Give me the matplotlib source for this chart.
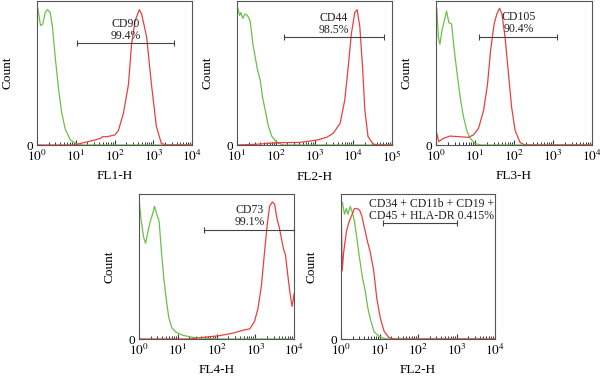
import numpy as np
import matplotlib
matplotlib.use("Agg")
import matplotlib.pyplot as plt
from matplotlib.ticker import LogLocator, NullFormatter

plt.rcParams["font.family"] = ["Liberation Serif", "DejaVu Serif"]
plt.rcParams["mathtext.fontset"] = "stix"
plt.rcParams["font.size"] = 9

GREEN = "#6cc04a"
RED = "#e8403f"

# ── Data (x in log10 decades, y in % of axis height) ──────────────────────────
# Panel 1: CD90, FL1-H
p1_green_x = [0.0, 0.02, 0.09, 0.15, 0.21, 0.27, 0.34, 0.40, 0.47, 0.56, 0.64, 0.73, 0.86, 1.03, 1.2, 4.0]
p1_green_y = [93, 95, 83, 84, 92, 94, 92, 82, 61, 38, 22, 11, 3.5, 0.5, 0, 0]
p1_red_x = [0.0, 0.94, 1.2, 1.5, 1.63, 1.7, 1.8, 2.01, 2.1, 2.23, 2.36, 2.44, 2.53, 2.64, 2.7, 2.83, 2.95, 3.08, 3.21, 3.35, 4.0]
p1_red_y = [0, 0, 1.6, 3.5, 4.6, 5.8, 5.7, 7, 10, 22, 42, 70, 86, 94, 91, 75, 43, 13, 1, 0, 0]

# Panel 2: CD44, FL2-H
p2_green_x = [1.0, 1.02, 1.07, 1.1, 1.15, 1.21, 1.27, 1.34, 1.41, 1.47, 1.53, 1.6, 1.66, 1.73, 1.81, 1.9, 2.03, 2.2, 5.0]
p2_green_y = [93, 95, 90, 92, 88, 91, 90, 86, 70, 61, 52, 45, 33, 24, 13, 6, 1.6, 0, 0]
p2_red_x = [1.0, 1.5, 2.03, 2.63, 3.06, 3.31, 3.48, 3.66, 3.78, 3.87, 3.95, 4.04, 4.1, 4.17, 4.24, 4.3, 4.38, 4.51, 4.65, 5.0]
p2_red_y = [0, 0.5, 1.6, 1.8, 3.4, 5.3, 8, 15, 31, 54, 77, 92, 94, 82, 54, 24, 6, 0.7, 0, 0]

# Panel 3: CD105, FL3-H
p3_green_x = [0.0, 0.02, 0.06, 0.1, 0.15, 0.21, 0.27, 0.33, 0.4, 0.46, 0.53, 0.62, 0.7, 0.79, 0.87, 1.0, 1.15, 4.0]
p3_green_y = [96, 95, 75, 70, 79, 86, 93, 85, 84, 68, 52, 33, 20, 10, 5, 1, 0, 0]
p3_red_x = [0.0, 0.02, 0.07, 0.19, 0.36, 0.62, 0.83, 0.96, 1.09, 1.22, 1.32, 1.4, 1.49, 1.56, 1.63, 1.69, 1.77, 1.86, 1.94, 2.03, 2.16, 2.29, 4.0]
p3_red_y = [10, 8, 2.3, 4.6, 6.2, 5.7, 5.3, 7, 11.5, 24, 42, 66, 84, 91, 95, 91, 75, 49, 26, 10, 1.6, 0, 0]

# Panel 4: CD73, FL4-H
p4_green_x = [0.0, 0.06, 0.12, 0.17, 0.23, 0.29, 0.36, 0.4, 0.46, 0.52, 0.58, 0.64, 0.71, 0.77, 0.85, 0.96, 1.14, 1.39, 1.74, 2.0, 4.0]
p4_green_y = [96, 81, 70, 66, 74, 81, 87, 91.5, 86, 81, 60, 42, 26, 14.5, 7.6, 4.6, 2.5, 1.1, 0.5, 0, 0]
p4_red_x = [0.0, 1.3, 1.65, 2.08, 2.43, 2.68, 2.86, 2.98, 3.07, 3.16, 3.24, 3.31, 3.37, 3.44, 3.5, 3.56, 3.62, 3.67, 3.73, 3.78, 3.84, 3.9, 3.95, 3.98, 4.0]
p4_red_y = [0, 0, 1.1, 2.3, 4.1, 6, 7, 12, 21, 37, 60, 79, 91.5, 94.5, 93, 83, 77, 70, 62, 58, 44, 31, 22.5, 27, 31]

# Panel 5: CD34/CD11b/CD19/CD45/HLA-DR, FL2-H
p5_green_x = [0.0, 0.04, 0.09, 0.14, 0.18, 0.24, 0.3, 0.35, 0.41, 0.48, 0.56, 0.63, 0.7, 0.78, 0.86, 0.98, 1.1, 1.25, 4.0]
p5_green_y = [95, 94, 86, 90, 86, 91.5, 87, 81, 70, 56, 42, 33, 21, 12, 5, 2, 0.5, 0, 0]
p5_red_x = [0.0, 0.03, 0.07, 0.14, 0.21, 0.29, 0.35, 0.41, 0.48, 0.54, 0.61, 0.69, 0.76, 0.85, 0.93, 1.02, 1.12, 1.24, 1.37, 4.0]
p5_red_y = [96, 47, 60, 74, 81, 86, 90, 90, 89, 85, 76.5, 67, 60, 47, 28, 14.5, 5.3, 1.1, 0, 0]

xlabels = ["FL1-H", "FL2-H", "FL3-H", "FL4-H", "FL2-H"]
xranges = [(0, 4), (1, 5), (0, 4), (0, 4), (0, 4)]
# bracket: (start decade, end decade, height)
brackets = [(1.04, 3.54, 70.6), (2.2, 4.79, 75), (1.09, 3.1, 75), (1.69, 4.0, 75.4), (1.08, 3.02, 80)]
labels = ["CD90\n99.4%", "CD44\n98.5%", "CD105\n90.4%", "CD73\n99.1%",
          "CD34 + CD11b + CD19 +\nCD45 + HLA-DR 0.415%"]
label_pos = [(2.29, 80), (3.5, 84), (2.12, 85), (2.86, 85), (0.74, 89)]

series = [
    (p1_green_x, p1_green_y, p1_red_x, p1_red_y),
    (p2_green_x, p2_green_y, p2_red_x, p2_red_y),
    (p3_green_x, p3_green_y, p3_red_x, p3_red_y),
    (p4_green_x, p4_green_y, p4_red_x, p4_red_y),
    (p5_green_x, p5_green_y, p5_red_x, p5_red_y),
]

# axes rectangles in figure fraction
rects = [
    [37 / 600, 1 - 145 / 382, 155 / 600, 144 / 382],
    [237 / 600, 1 - 145 / 382, 155 / 600, 144 / 382],
    [436 / 600, 1 - 145 / 382, 156 / 600, 144 / 382],
    [139 / 600, 1 - 339 / 382, 155 / 600, 145 / 382],
    [341 / 600, 1 - 339 / 382, 154 / 600, 145 / 382],
]

fig = plt.figure(figsize=(6, 3.82), dpi=100)

for i in range(5):
    ax = fig.add_axes(rects[i])
    gx, gy, rx, ry = series[i]
    ax.plot(10 ** np.array(gx), gy, color=GREEN, lw=0.9)
    ax.plot(10 ** np.array(rx), ry, color=RED, lw=0.9)

    lo, hi = xranges[i]
    ax.set_xscale("log")
    ax.set_xlim(10 ** lo, 10 ** hi)
    ax.set_ylim(0, 100)
    ax.set_xticks([10 ** k for k in range(lo, hi + 1)])
    ax.set_xticklabels([r"$10^{%d}$" % k for k in range(lo, hi + 1)], fontsize=9.5)
    ax.xaxis.set_minor_locator(LogLocator(base=10, subs=np.arange(2, 10), numticks=50))
    ax.xaxis.set_minor_formatter(NullFormatter())
    ax.set_yticks([0])
    ax.set_yticklabels(["0"], fontsize=9.5)
    ax.tick_params(axis="both", which="major", direction="in", length=3.5, width=0.8,
                   color="#333333", pad=3)
    ax.tick_params(axis="x", which="minor", direction="in", length=2.5, width=0.7,
                   color="#333333")
    for s in ax.spines.values():
        s.set_color("#555555")
        s.set_linewidth(0.8)
    ax.set_xlabel(xlabels[i], fontsize=9.5, labelpad=4)
    ax.set_ylabel("Count", fontsize=9.5, labelpad=9)

    b0, b1, bh = brackets[i]
    ax.plot([10 ** b0, 10 ** b1], [bh, bh], color="#444444", lw=0.8,
            marker="|", markersize=5, markeredgewidth=0.8, clip_on=False)
    tx, ty = label_pos[i]
    if i == 4:
        ax.text(10 ** tx, ty, labels[i], ha="left", va="center", fontsize=8.5,
                linespacing=1.0, color="#222222")
    else:
        ax.text(10 ** tx, ty, labels[i], ha="center", va="center", fontsize=8.5,
                linespacing=1.0, color="#222222")

fig.savefig("out.png", dpi=100)
